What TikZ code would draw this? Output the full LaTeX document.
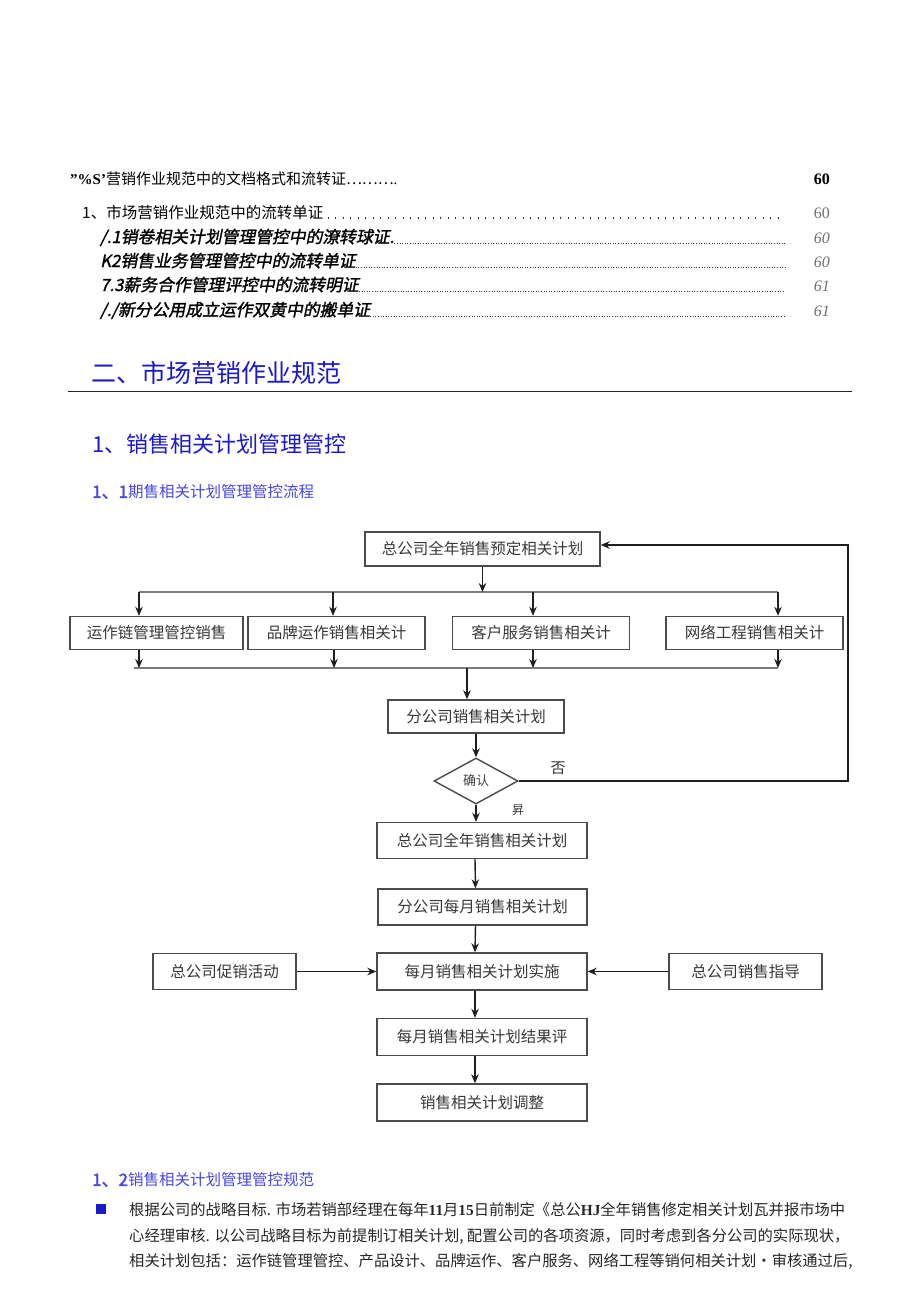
\documentclass[tikz,border=0pt]{standalone}
\usepackage{fontspec}
\setmainfont{Liberation Serif}
\newfontfamily\cjk{Noto Sans CJK SC}
\newfontfamily\cjkit[FakeSlant=0.2,FakeBold=1.5]{Noto Sans CJK SC}
\newfontfamily\cjkb[FakeBold=2]{Noto Sans CJK SC}
\usetikzlibrary{arrows.meta,shapes.geometric}
\definecolor{hblue}{RGB}{25,25,205}
\definecolor{lblue}{RGB}{70,70,225}
\definecolor{boxline}{RGB}{75,75,75}
\definecolor{busgray}{RGB}{125,125,125}
\definecolor{pgray}{RGB}{110,110,110}
\begin{document}
\begin{tikzpicture}[x=1pt,y=-1pt,
  fbox/.style={draw=boxline,line width=1.4pt,fill=white,minimum height=35pt,inner sep=0pt,
    font=\cjk\fontsize{15.5}{18}\selectfont,text=black!78},
  arr/.style={-{Stealth[length=9pt,width=7.5pt]},line width=1.4pt,black!88},
  bus/.style={line width=2.6pt,busgray},
  txt/.style={anchor=base west,inner sep=0pt},
  pnum/.style={anchor=base east,inner sep=0pt,font=\fontsize{16}{18}\selectfont},
  sparse/.style={line width=1.2pt,dash pattern=on 1.2pt off 6.3pt,black!80},
  dense/.style={line width=1pt,dash pattern=on 1pt off 1.6pt,black!80},
  lab/.style={inner sep=0pt,font=\cjk\fontsize{15}{18}\selectfont,text=black!80}
]
\useasboundingbox (0,0) rectangle (920,1301);

% ---------- table of contents ----------
\node[txt] (t1) at (70,184) {\fontsize{15}{18}\selectfont\textbf{"\%S'}\cjk 营销作业规范中的文档格式和流转证………\rmfamily .};
\node[pnum] (p1) at (830,184) {\bfseries 60};

\node[txt,font=\cjk\fontsize{15.5}{18}\selectfont] (t2) at (82,218) {1、市场营销作业规范中的流转单证};
\coordinate (d2) at (785,218);
\draw[sparse] ([xshift=4pt]t2.base east) -- (d2);
\node[pnum,text=pgray] (p2) at (830,218) {60};

\node[txt,font=\cjkit\fontsize{16.8}{18}\selectfont] (t3) at (100,243) {/.1销卷相关计划管理管控中的潦转球证.};
\coordinate (d3) at (785,243);
\draw[dense] (t3.base east) -- (d3);
\node[pnum,text=pgray] (p3) at (830,243) {\itshape 60};

\node[txt,font=\cjkit\fontsize{16.8}{18}\selectfont] (t4) at (100,267) {K2销售业务管理管控中的流转单证};
\coordinate (d4) at (785,267);
\draw[dense] (t4.base east) -- (d4);
\node[pnum,text=pgray] (p4) at (830,267) {\itshape 60};

\node[txt,font=\cjkit\fontsize{16.8}{18}\selectfont] (t5) at (100,291) {7.3薪务合作管理评控中的流转明证};
\coordinate (d5) at (785,291);
\draw[dense] (t5.base east) -- (d5);
\node[pnum,text=pgray] (p5) at (830,291) {\itshape 61};

\node[txt,font=\cjkit\fontsize{16.8}{18}\selectfont] (t6) at (100,316) {/./新分公用成立运作双黄中的搬单证};
\coordinate (d6) at (785,316);
\draw[dense] (t6.base east) -- (d6);
\node[pnum,text=pgray] (p6) at (830,316) {\itshape 61};

% ---------- headings ----------
\node[anchor=west,inner sep=0pt,text=hblue,font=\cjk\fontsize{25}{28}\selectfont] (h1) at (91,373) {二、市场营销作业规范};
\coordinate (r1) at (68,391);
\coordinate (r2) at (852,391);
\draw[line width=1pt,black!85] (r1) -- (r2);
\node[anchor=west,inner sep=0pt,text=hblue,font=\cjk\fontsize{22}{26}\selectfont] (h2) at (92,444) {1、销售相关计划管理管控};
\node[anchor=west,inner sep=0pt,text=lblue] (h3) at (92,492) {{\cjkb\fontsize{17}{20}\selectfont 1、1}{\cjk\fontsize{15.5}{20}\selectfont 期售相关计划管理管控流程}};

% ---------- flowchart ----------
\node[fbox,minimum width=235pt,minimum height=34pt] (A) at (482.5,549) {总公司全年销售预定相关计划};

\coordinate (tb1) at (139,592);
\coordinate (tb2) at (333,592);
\coordinate (tb3) at (533,592);
\coordinate (tb4) at (778,592);
\coordinate (tbA) at (482.5,592);
\draw[bus] (tb1) -- (tb4);
\draw[arr] (A.south) -- (tbA);

\node[fbox,minimum width=173pt,minimum height=33pt] (B1) at (156.5,633) {运作链管理管控销售};
\node[fbox,minimum width=177pt,minimum height=33pt] (B2) at (336.5,633) {品牌运作销售相关计};
\node[fbox,minimum width=177pt,minimum height=33pt] (B3) at (541,633) {客户服务销售相关计};
\node[fbox,minimum width=177pt,minimum height=33pt] (B4) at (754.5,633) {网络工程销售相关计};

\draw[arr] (tb1) -- (tb1 |- B1.north);
\draw[arr] (tb2) -- (tb2 |- B2.north);
\draw[arr] (tb3) -- (tb3 |- B3.north);
\draw[arr] (tb4) -- (tb4 |- B4.north);

\coordinate (bb0) at (134,668);
\coordinate (bb1) at (139,668);
\coordinate (bb2) at (334,668);
\coordinate (bb3) at (533,668);
\coordinate (bb4) at (778,668);
\coordinate (bbC) at (467,668);
\draw[bus] (bb0) -- (bb4);
\draw[arr] (bb1 |- B1.south) -- (bb1);
\draw[arr] (bb2 |- B2.south) -- (bb2);
\draw[arr] (bb3 |- B3.south) -- (bb3);
\draw[arr] (bb4 |- B4.south) -- (bb4);

\node[fbox,minimum width=176pt,minimum height=33pt] (C) at (476,716.5) {分公司销售相关计划};
\draw[arr] (bbC) -- (bbC |- C.north);

\node[draw=boxline,line width=1.4pt,fill=white,shape=diamond,aspect=1.8,minimum width=84pt,minimum height=46pt,inner sep=0pt,
  font=\cjk\fontsize{13}{15}\selectfont,text=black!75] (Q) at (476,781) {确认};
\draw[arr] (C.south) -- (Q.north);

\coordinate (fb1) at (848,781);
\coordinate (fb2) at (848,545);
\draw[arr] (Q.east) -- (fb1) -- (fb2) -- (A.east |- fb2);
\node[lab] (no) at (558,768) {否};

\node[fbox,minimum width=210pt,minimum height=36pt] (D) at (482,840.5) {总公司全年销售相关计划};
\draw[arr] (Q.south) -- (Q.south |- D.north);
\node[lab,font=\cjk\fontsize{12}{14}\selectfont] (yes) at (518,810) {昇};

\node[fbox,minimum width=209pt,minimum height=36pt] (E) at (482.5,907) {分公司每月销售相关计划};
\node[fbox,minimum width=210pt,minimum height=37pt] (F) at (482,971.5) {每月销售相关计划实施};
\node[fbox,minimum width=143pt,minimum height=36pt] (G) at (224.5,971.5) {总公司促销活动};
\node[fbox,minimum width=153pt,minimum height=36pt] (H) at (745.5,971.5) {总公司销售指导};
\node[fbox,minimum width=210pt,minimum height=37pt] (I) at (482,1037) {每月销售相关计划结果评};
\node[fbox,minimum width=210pt,minimum height=37pt] (J) at (482,1102.5) {销售相关计划调整};

\draw[arr] ([xshift=-7pt]D.south) -- ([xshift=-7pt]E.north);
\draw[arr] ([xshift=-7pt]E.south) -- ([xshift=-7pt]F.north);
\draw[arr] ([xshift=-7pt]F.south) -- ([xshift=-7pt]I.north);
\draw[arr] ([xshift=-7pt]I.south) -- ([xshift=-7pt]J.north);
\draw[arr] (G.east) -- (F.west);
\draw[arr] (H.west) -- (F.east);

% ---------- section 1.2 ----------
\node[anchor=west,inner sep=0pt,text=lblue] (h4) at (92,1180) {{\cjkb\fontsize{17}{20}\selectfont 1、2}{\cjk\fontsize{15.5}{20}\selectfont 销售相关计划管理管控规范}};
\node[fill=hblue,minimum size=10pt,inner sep=0pt] (bul) at (101,1209) {};
\node[anchor=west,inner sep=0pt,text=black!85,font=\cjk\fontsize{15.3}{18}\selectfont] (l1) at (129,1210)
  {根据公司的战略目标. 市场若销部经理在每年{\rmfamily\bfseries 11}月{\rmfamily\bfseries 15}日前制定《总公{\rmfamily\bfseries HJ}全年销售修定相关计划瓦并报市场中};
\node[anchor=west,inner sep=0pt,text=black!85,font=\cjk\fontsize{15.3}{18}\selectfont] (l2) at (129,1236)
  {心经理审核. 以公司战略目标为前提制订相关计划, 配置公司的各项资源，同时考虑到各分公司的实际现状，};
\node[anchor=west,inner sep=0pt,text=black!85,font=\cjk\fontsize{15.3}{18}\selectfont] (l3) at (129,1261)
  {相关计划包括：运作链管理管控、产品设计、品牌运作、客户服务、网络工程等销何相关计划•审核通过后,};
\end{tikzpicture}
\end{document}
